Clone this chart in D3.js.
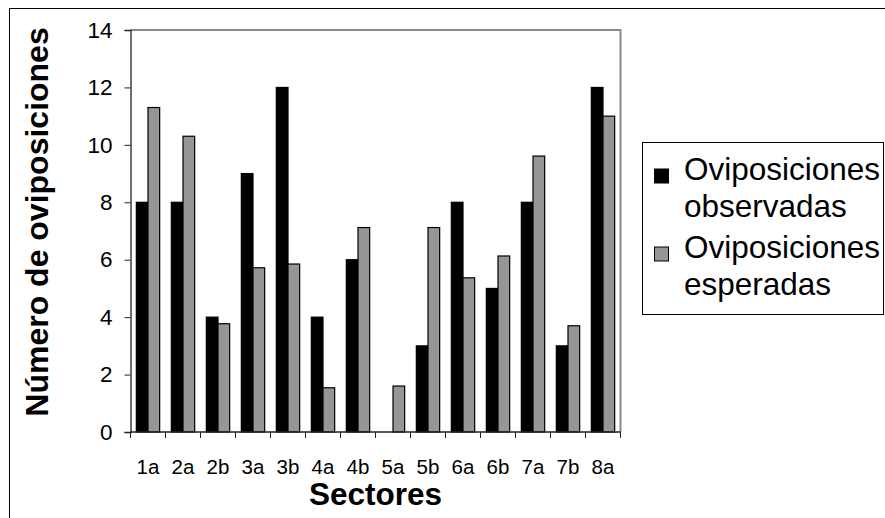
<!DOCTYPE html>
<html>
<head>
<meta charset="utf-8">
<script src="https://cdn.jsdelivr.net/npm/d3@7"></script>
<style>
  html, body { margin: 0; padding: 0; background: #fff; }
  svg { display: block; font-family: "Liberation Sans", Arial, sans-serif; }
</style>
</head>
<body>
<svg id="chart" width="885" height="518"></svg>
<script>
// Sectors along the x axis
const sectores = ["1a", "2a", "2b", "3a", "3b", "4a", "4b", "5a", "5b", "6a", "6b", "7a", "7b", "8a"];
// Observed ovipositions per sector
const observadas = [8, 8, 4, 9, 12, 4, 6, 0, 3, 8, 5, 8, 3, 12];
// Expected ovipositions per sector
const esperadas = [11.3, 10.3, 3.77, 5.72, 5.85, 1.54, 7.12, 1.6, 7.12, 5.37, 6.13, 9.61, 3.7, 11.0];
// Series names and y-axis ticks
const seriesNames = ["Oviposiciones observadas", "Oviposiciones esperadas"];
const yTicks = [0, 2, 4, 6, 8, 10, 12, 14];

const colors = ["#000000", "#969696"];
const svg = d3.select("#chart");

// Outer chart frame
svg.append("rect")
  .attr("x", 9.5).attr("y", 8.5).attr("width", 1000).attr("height", 1000)
  .attr("fill", "none").attr("stroke", "#000").attr("stroke-width", 1);

const plot = { left: 130.5, right: 620.5, top: 30, bottom: 432 };

const x0 = d3.scaleBand().domain(sectores).range([plot.left, plot.right]).padding(0);
const x1 = d3.scaleBand().domain([0, 1]).range([0, x0.bandwidth()]).paddingInner(0).paddingOuter(0.5);
const y = d3.scaleLinear().domain([0, 14]).range([plot.bottom, plot.top]);

// Plot-area border (top and right)
svg.append("path")
  .attr("d", `M${plot.left},${plot.top}H${plot.right}V${plot.bottom}`)
  .attr("fill", "none").attr("stroke", "#8a8a8a").attr("stroke-width", 2);

// Bars
const rows = sectores.map((s, i) => ({ s, vals: [observadas[i], esperadas[i]] }));
const groups = svg.append("g").selectAll("g").data(rows).join("g")
  .attr("transform", d => `translate(${x0(d.s)},0)`);
groups.selectAll("rect")
  .data(d => d.vals.map((v, k) => ({ v, k })).filter(e => e.v > 0))
  .join("rect")
  .attr("x", e => x1(e.k))
  .attr("y", e => y(e.v))
  .attr("width", x1.bandwidth())
  .attr("height", e => y(0) - y(e.v))
  .attr("fill", e => colors[e.k])
  .attr("stroke", "#000").attr("stroke-width", 1.2);

// Y axis
const yAxis = d3.axisLeft(y).tickValues(yTicks).tickSize(6).tickPadding(12).tickFormat(d3.format("d"));
const gy = svg.append("g").attr("transform", `translate(${plot.left},0)`).call(yAxis);
gy.select(".domain").attr("stroke", "#222").attr("stroke-width", 1.3);
gy.selectAll(".tick line").attr("stroke", "#222");
gy.selectAll(".tick text").attr("font-size", 22.5).attr("fill", "#000")
  .attr("font-family", "'Liberation Sans', Arial, sans-serif");

// X axis: ticks at category boundaries
const gx = svg.append("g").attr("transform", `translate(0,${plot.bottom})`);
gx.append("line").attr("x1", plot.left).attr("x2", plot.right).attr("stroke", "#222").attr("stroke-width", 1.3);
const boundaries = sectores.map(s => x0(s)).concat([plot.right]);
gx.selectAll("line.tk").data(boundaries).join("line").attr("class", "tk")
  .attr("x1", d => d).attr("x2", d => d).attr("y1", 0).attr("y2", 6)
  .attr("stroke", "#222");
gx.selectAll("text").data(sectores).join("text")
  .attr("x", d => x0(d) + x0.bandwidth() / 2)
  .attr("y", 42)
  .attr("text-anchor", "middle")
  .attr("font-size", 20.5)
  .text(d => d);

// Axis titles
svg.append("text")
  .attr("x", (plot.left + plot.right) / 2).attr("y", 505)
  .attr("text-anchor", "middle").attr("font-weight", "bold").attr("font-size", 31.5)
  .text("Sectores");
svg.append("text")
  .attr("transform", "translate(48,222) rotate(-90)")
  .attr("text-anchor", "middle").attr("font-weight", "bold").attr("font-size", 32)
  .text("Número de oviposiciones");

// Legend
const lg = svg.append("g");
lg.append("rect").attr("x", 642.5).attr("y", 142.5).attr("width", 241).attr("height", 172)
  .attr("fill", "#fff").attr("stroke", "#000").attr("stroke-width", 1);
const legendBase = [180, 258];
seriesNames.forEach((name, k) => {
  const words = name.split(" ");
  lg.append("rect")
    .attr("x", 654.5).attr("y", legendBase[k] - 11).attr("width", 14).attr("height", 14)
    .attr("fill", colors[k]).attr("stroke", "#000").attr("stroke-width", 1);
  const t = lg.append("text").attr("font-size", 31.5);
  words.forEach((w, j) => {
    t.append("tspan").attr("x", 684).attr("y", legendBase[k] + j * 37).text(w);
  });
});
</script>
</body>
</html>
